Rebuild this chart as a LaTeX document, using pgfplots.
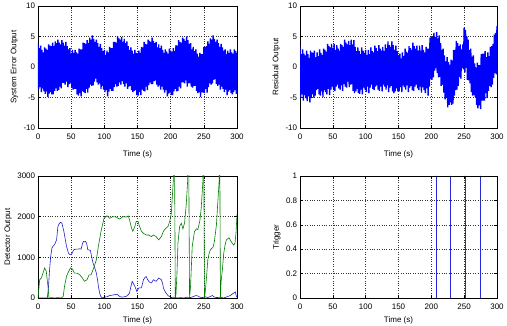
\documentclass[border=0pt]{standalone}
\usepackage{pgfplots}
\pgfplotsset{compat=1.18}
\usepackage{fontspec}
\setmainfont{Liberation Sans}
\begin{document}
\fontsize{8}{9.6}\selectfont
\begin{tikzpicture}
\pgfplotsset{
  mstyle/.style={
    scale only axis, width=199pt, height=122pt,
    xmin=0, xmax=300, xtick={0,50,...,300},
    tick align=inside, major tick length=3pt,
    grid=major, grid style={black!80, line width=0.4pt, dash pattern=on 0.6pt off 1.8pt},
    axis line style={black, line width=0.5pt},
    tick style={black, line width=0.5pt},
    xlabel={Time (s)},
    tick label style={font=\fontsize{8}{9.6}\selectfont},
    xticklabel style={yshift=-3pt},
    label style={font=\fontsize{8}{9.6}\selectfont},
    /pgf/number format/assume math mode=true,
    /pgf/number format/set thousands separator={},
    scaled ticks=false,
  },
  band/.style={color={rgb,255:red,0;green,0;blue,255}, line width=1.4pt, line join=bevel},
}
\path[use as bounding box] (0,0) rectangle (507pt,326pt);
% ---------------- top left
\begin{axis}[mstyle, at={(38pt,198pt)}, anchor=south west, xlabel style={yshift=-6pt},
  ymin=-10, ymax=10, ytick={-10,-5,0,5,10}, ylabel={System Error Output}]
\addplot[band] table[row sep=\\] {
x y\\
0 3.9\\ 1 -3.6\\ 2 3.1\\ 3 -3.3\\ 4 3.5\\ 5 -4.1\\ 6 2.8\\ 7 -3.5\\ 8 2.4\\ 9 -4.0\\
10 3.2\\ 11 -4.4\\ 12 3.0\\ 13 -4.0\\ 14 2.8\\ 15 -4.9\\ 16 3.7\\ 17 -4.35\\ 18 3.5\\ 19 -4.1\\
20 3.4\\ 21 -4.5\\ 22 4.0\\ 23 -4.5\\ 24 3.4\\ 25 -3.9\\ 26 4.2\\ 27 -3.5\\ 28 3.9\\ 29 -3.9\\
30 4.5\\ 31 -3.8\\ 32 4.0\\ 33 -3.2\\ 34 3.7\\ 35 -3.5\\ 36 4.4\\ 37 -2.6\\ 38 4.0\\ 39 -2.6\\
40 3.5\\ 41 -2.9\\ 42 4.1\\ 43 -2.4\\ 44 3.4\\ 45 -3.3\\ 46 2.9\\ 47 -2.8\\ 48 3.1\\ 49 -2.7\\
50 2.2\\ 51 -3.4\\ 52 2.8\\ 53 -3.7\\ 54 2.3\\ 55 -3.6\\ 56 2.8\\ 57 -3.6\\ 58 2.4\\ 59 -4.5\\
60 2.2\\ 61 -4.7\\ 62 3.0\\ 63 -4.3\\ 64 2.9\\ 65 -4.8\\ 66 2.9\\ 67 -4.0\\ 68 4.0\\ 69 -4.1\\
70 3.9\\ 71 -4.3\\ 72 3.8\\ 73 -3.6\\ 74 4.4\\ 75 -4.2\\ 76 3.9\\ 77 -3.4\\ 78 4.8\\ 79 -2.9\\
80 4.5\\ 81 -3.1\\ 82 5.2\\ 83 -3.0\\ 84 4.6\\ 85 -2.4\\ 86 4.1\\ 87 -1.9\\ 88 4.5\\ 89 -2.5\\
90 3.9\\ 91 -2.9\\ 92 3.3\\ 93 -2.7\\ 94 3.8\\ 95 -3.6\\ 96 3.1\\ 97 -3.1\\ 98 2.6\\ 99 -3.7\\
100 2.8\\ 101 -4.1\\ 102 2.0\\ 103 -3.8\\ 104 2.7\\ 105 -4.8\\ 106 2.4\\ 107 -4.05\\ 108 3.3\\ 109 -3.6\\
110 3.1\\ 111 -3.9\\ 112 3.1\\ 113 -3.9\\ 114 4.1\\ 115 -3.3\\ 116 4.1\\ 117 -2.8\\ 118 4.0\\ 119 -3.2\\
120 5.0\\ 121 -3.1\\ 122 4.7\\ 123 -2.5\\ 124 4.5\\ 125 -2.9\\ 126 4.9\\ 127 -2.3\\ 128 4.1\\ 129 -2.8\\
130 4.6\\ 131 -3.2\\ 132 3.9\\ 133 -2.7\\ 134 4.2\\ 135 -3.6\\ 136 3.4\\ 137 -3.2\\ 138 2.8\\ 139 -3.1\\
140 3.2\\ 141 -3.8\\ 142 2.7\\ 143 -4.1\\ 144 2.2\\ 145 -3.9\\ 146 2.8\\ 147 -3.8\\ 148 2.3\\ 149 -4.6\\
150 2.1\\ 151 -4.7\\ 152 2.7\\ 153 -4.1\\ 154 2.3\\ 155 -4.6\\ 156 3.3\\ 157 -3.7\\ 158 3.2\\ 159 -3.9\\
160 4.1\\ 161 -4.0\\ 162 3.8\\ 163 -3.2\\ 164 3.7\\ 165 -3.8\\ 166 4.5\\ 167 -2.95\\ 168 4.3\\ 169 -2.5\\
170 4.1\\ 171 -2.8\\ 172 4.8\\ 173 -2.8\\ 174 4.3\\ 175 -2.3\\ 176 3.9\\ 177 -2.2\\ 178 4.1\\ 179 -2.9\\
180 3.2\\ 181 -3.2\\ 182 3.7\\ 183 -3.0\\ 184 3.1\\ 185 -3.7\\ 186 3.5\\ 187 -3.2\\ 188 2.8\\ 189 -3.7\\
190 2.3\\ 191 -4.2\\ 192 2.9\\ 193 -3.8\\ 194 2.5\\ 195 -4.8\\ 196 2.2\\ 197 -4.35\\ 198 3.0\\ 199 -4.2\\
200 2.7\\ 201 -4.6\\ 202 2.5\\ 203 -4.6\\ 204 3.1\\ 205 -4.0\\ 206 2.6\\ 207 -3.6\\ 208 3.6\\ 209 -4.0\\
210 3.5\\ 211 -3.9\\ 212 4.4\\ 213 -3.2\\ 214 4.1\\ 215 -3.5\\ 216 4.0\\ 217 -2.5\\ 218 4.8\\ 219 -2.5\\
220 4.6\\ 221 -2.7\\ 222 4.3\\ 223 -2.2\\ 224 5.0\\ 225 -3.2\\ 226 4.4\\ 227 -2.7\\ 228 3.8\\ 229 -2.6\\
230 3.9\\ 231 -3.2\\ 232 2.9\\ 233 -3.4\\ 234 3.3\\ 235 -3.1\\ 236 2.6\\ 237 -3.1\\ 238 2.9\\ 239 -3.9\\
240 2.2\\ 241 -4.3\\ 242 1.7\\ 243 -4.1\\ 244 2.3\\ 245 -4.9\\ 246 2.1\\ 247 -4.1\\ 248 2.1\\ 249 -4.2\\
250 3.3\\ 251 -4.3\\ 252 3.3\\ 253 -3.6\\ 254 3.4\\ 255 -4.2\\ 256 4.2\\ 257 -3.3\\ 258 3.8\\ 259 -2.7\\
260 4.7\\ 261 -2.9\\ 262 4.5\\ 263 -2.7\\ 264 5.2\\ 265 -2.1\\ 266 4.6\\ 267 -2.0\\ 268 4.1\\ 269 -2.8\\
270 4.5\\ 271 -3.1\\ 272 3.9\\ 273 -2.9\\ 274 3.3\\ 275 -3.7\\ 276 3.8\\ 277 -3.2\\ 278 3.2\\ 279 -3.6\\
280 2.7\\ 281 -4.1\\ 282 2.9\\ 283 -3.7\\ 284 2.1\\ 285 -4.6\\ 286 2.7\\ 287 -4.05\\ 288 2.3\\ 289 -3.8\\
290 2.9\\ 291 -4.3\\ 292 2.4\\ 293 -4.5\\ 294 2.2\\ 295 -4.1\\ 296 2.9\\ 297 -3.8\\ 298 2.6\\ 299 -4.4\\
300 2.3\\
};
\end{axis}
% ---------------- top right
\begin{axis}[mstyle, width=197pt, at={(300pt,198pt)}, anchor=south west, xlabel style={yshift=-6pt},
  ymin=-10, ymax=10, ytick={-10,-5,0,5,10}, ylabel={Residual Output}]
\addplot[band] table[row sep=\\] {
x y\\
0 3.4\\ 1 -5.0\\ 2 2.1\\ 3 -4.5\\ 4 2.9\\ 5 -5.5\\ 6 2.2\\ 7 -4.6\\ 8 1.9\\ 9 -5.1\\
10 2.7\\ 11 -5.6\\ 12 2.1\\ 13 -4.8\\ 14 1.5\\ 15 -5.8\\ 16 2.7\\ 17 -5.1\\ 18 2.4\\ 19 -4.5\\
20 2.3\\ 21 -5.0\\ 22 2.7\\ 23 -4.7\\ 24 1.6\\ 25 -3.8\\ 26 2.4\\ 27 -3.6\\ 28 1.8\\ 29 -4.5\\
30 2.9\\ 31 -4.7\\ 32 2.3\\ 33 -4.0\\ 34 2.0\\ 35 -4.9\\ 36 3.0\\ 37 -3.8\\ 38 2.8\\ 39 -4.1\\
40 2.5\\ 41 -4.5\\ 42 3.8\\ 43 -3.6\\ 44 3.4\\ 45 -4.6\\ 46 3.2\\ 47 -3.7\\ 48 3.8\\ 49 -3.2\\
50 3.1\\ 51 -3.8\\ 52 3.8\\ 53 -3.9\\ 54 2.8\\ 55 -3.2\\ 56 3.6\\ 57 -2.9\\ 58 3.0\\ 59 -3.5\\
60 2.7\\ 61 -3.7\\ 62 3.8\\ 63 -3.0\\ 64 3.6\\ 65 -3.9\\ 66 3.3\\ 67 -2.8\\ 68 4.5\\ 69 -3.2\\
70 4.0\\ 71 -3.4\\ 72 3.7\\ 73 -2.4\\ 74 4.3\\ 75 -3.3\\ 76 3.6\\ 77 -2.9\\ 78 4.5\\ 79 -2.8\\
80 3.7\\ 81 -3.9\\ 82 4.4\\ 83 -4.3\\ 84 3.3\\ 85 -4.0\\ 86 2.6\\ 87 -3.6\\ 88 3.2\\ 89 -4.3\\
90 2.6\\ 91 -4.4\\ 92 2.1\\ 93 -3.7\\ 94 3.2\\ 95 -4.5\\ 96 2.7\\ 97 -3.4\\ 98 2.3\\ 99 -3.7\\
100 2.8\\ 101 -4.1\\ 102 2.0\\ 103 -3.2\\ 104 2.8\\ 105 -4.3\\ 106 2.1\\ 107 -3.4\\ 108 3.2\\ 109 -2.9\\
110 2.6\\ 111 -3.6\\ 112 2.4\\ 113 -3.8\\ 114 3.5\\ 115 -3.2\\ 116 3.1\\ 117 -3.0\\ 118 2.6\\ 119 -3.7\\
120 3.6\\ 121 -3.9\\ 122 3.0\\ 123 -3.2\\ 124 2.7\\ 125 -4.0\\ 126 3.3\\ 127 -2.9\\ 128 2.6\\ 129 -3.2\\
130 3.7\\ 131 -3.7\\ 132 3.1\\ 133 -3.0\\ 134 4.2\\ 135 -4.1\\ 136 3.6\\ 137 -3.4\\ 138 3.3\\ 139 -3.1\\
140 4.2\\ 141 -4.0\\ 142 3.6\\ 143 -4.3\\ 144 2.8\\ 145 -4.0\\ 146 3.5\\ 147 -3.5\\ 148 2.6\\ 149 -4.0\\
150 1.9\\ 151 -4.0\\ 152 2.2\\ 153 -3.3\\ 154 1.4\\ 155 -4.1\\ 156 2.4\\ 157 -3.0\\ 158 1.8\\ 159 -3.3\\
160 3.0\\ 161 -3.7\\ 162 2.5\\ 163 -3.0\\ 164 2.3\\ 165 -4.1\\ 166 3.4\\ 167 -3.4\\ 168 3.1\\ 169 -3.1\\
170 2.8\\ 171 -3.8\\ 172 4.0\\ 173 -3.9\\ 174 3.4\\ 175 -3.2\\ 176 3.0\\ 177 -2.9\\ 178 3.5\\ 179 -3.5\\
180 2.7\\ 181 -3.8\\ 182 3.5\\ 183 -3.2\\ 184 2.7\\ 185 -4.2\\ 186 3.6\\ 187 -3.3\\ 188 2.8\\ 189 -3.8\\
190 2.4\\ 191 -4.3\\ 192 3.3\\ 193 -3.5\\ 194 3.0\\ 195 -4.7\\ 196 3.0\\ 197 -3.2\\ 198 4.8\\ 199 -2.0\\
200 4.9\\ 201 -2.1\\ 202 4.9\\ 203 -1.7\\ 204 5.6\\ 205 -0.6\\ 206 4.9\\ 207 -0.2\\ 208 5.7\\ 209 -1.0\\
210 4.7\\ 211 -1.7\\ 212 5.2\\ 213 -1.6\\ 214 3.9\\ 215 -3.1\\ 216 2.8\\ 217 -2.9\\ 218 3.0\\ 219 -4.2\\
220 1.9\\ 221 -5.3\\ 222 0.9\\ 223 -5.0\\ 224 1.6\\ 225 -6.6\\ 226 0.8\\ 227 -6.2\\ 228 0.4\\ 229 -5.8\\
230 1.2\\ 231 -6.2\\ 232 1.1\\ 233 -6.0\\ 234 2.8\\ 235 -4.7\\ 236 2.8\\ 237 -3.8\\ 238 4.3\\ 239 -3.7\\
240 3.9\\ 241 -3.1\\ 242 3.4\\ 243 -1.6\\ 244 3.7\\ 245 -1.9\\ 246 2.9\\ 247 -0.2\\ 248 3.7\\ 249 -0.4\\
250 6.4\\ 251 -0.9\\ 252 6.1\\ 253 -0.1\\ 254 5.0\\ 255 -2.1\\ 256 4.5\\ 257 -2.2\\ 258 2.8\\ 259 -2.7\\
260 3.0\\ 261 -4.1\\ 262 1.7\\ 263 -4.7\\ 264 1.9\\ 265 -4.6\\ 266 0.6\\ 267 -4.9\\ 268 -0.1\\ 269 -6.2\\
270 0.7\\ 271 -6.8\\ 272 0.3\\ 273 -6.3\\ 274 0.3\\ 275 -6.9\\ 276 2.1\\ 277 -5.5\\ 278 2.2\\ 279 -5.5\\
280 2.2\\ 281 -5.5\\ 282 2.6\\ 283 -4.3\\ 284 1.6\\ 285 -5.1\\ 286 2.4\\ 287 -3.9\\ 288 1.8\\ 289 -3.1\\
290 3.3\\ 291 -3.3\\ 292 3.4\\ 293 -2.9\\ 294 3.8\\ 295 -1.8\\ 296 5.3\\ 297 -1.0\\ 298 5.6\\ 299 -1.2\\
300 6.7\\
};
\end{axis}
% ---------------- bottom left
\begin{axis}[mstyle, at={(38pt,28pt)}, anchor=south west, xlabel style={yshift=-2pt},
  ymin=0, ymax=3000, ytick={0,1000,2000,3000}, ylabel={Detector Output}]
\addplot[color={rgb,255:red,30;green,30;blue,200}, line width=0.6pt] coordinates {
(0,0) (14,0) (15.5,200) (17.5,700) (19,1000) (21,1230) (23,1280) (25,1310) (28,1430) (30,1760)
(32,1830) (34,1860) (36,1840) (39,1640) (41,1450) (43,1270) (46,1100) (48,1070) (50,1060) (52,1120)
(54,1190) (57,1200) (60,1200) (63,1210) (65,1200) (67,1330) (68.5,1390) (70,1380) (72,1390) (73.5,1330)
(75,1190) (79,1170) (81,1000) (83,860) (86,720) (88,610) (90,420) (91,290) (93,120) (94.5,40)
(97,0) (100,20) (104,30) (108,60) (112,70) (115,80) (118,90) (120,80) (123,40) (126,20)
(130,30) (133,40) (136,80) (138,120) (140,280) (142,410) (144,350) (146,290) (149,160) (152,250)
(156,250) (159,450) (161,500) (163,530) (165,460) (167,410) (169,380) (171,370) (174,450) (176,430)
(178,410) (180,450) (182,490) (184,470) (186,450) (188,350) (189,250) (191,180) (193,120) (196,60)
(198,40) (200,10) (205,20) (210,0) (215,10) (220,0) (225,20) (230,10) (235,40) (238,60)
(241,50) (244,20) (248,10) (252,30) (256,10) (260,40) (263,60) (266,20) (270,10) (275,20)
(280,0) (285,30) (290,60) (293,100) (296,130) (297.5,150) (299,40) (300,20)
};
\addplot[color={rgb,255:red,0;green,128;blue,0}, line width=0.6pt] coordinates {
(0,0) (2.5,450) (5,490) (7.5,610) (10,740) (12.5,650) (15,290) (16.5,0) (20,10) (25,0)
(30,10) (35,0) (38,40) (40,290) (43,530) (45,610) (49,740) (52,710) (55,610) (59,610)
(63,570) (67,490) (70,410) (74,450) (77,570) (80,570) (84,740) (88,940) (91,1270) (95.5,1680)
(99.5,1960) (104,2020) (108,1960) (113,2000) (118,1990) (123,1940) (128,2000) (133,1990) (136,2020) (138,1920)
(141,1720) (143,1640) (146,1760) (148,1880) (151,1880) (153,1760) (156,1640) (159,1590) (163,1550) (167,1550)
(171,1510) (174,1550) (178,1510) (182,1430) (186,1510) (189,1640) (193,1720) (196,1760) (198.5,1880) (201,2080)
(204,2900) (205.5,4500) (207,0)
(208,100) (209.5,600) (211,1350) (213.5,1760) (216,1840) (218.5,1700) (221,1850) (223.5,2300) (225.5,2850) (226.8,4500) (228.5,0)
(230,300) (232.5,1270) (236,1640) (239,1700) (241,1680) (244,1900) (246,2200) (248.5,2850) (249.6,4500) (251,0)
(252,120) (254,500) (256,940) (258,1100) (260,1190) (264,1250) (266,1400) (269,1800) (271,2330) (273,2850) (273.8,4500) (275,0)
(276,400) (278,700) (280,1100) (282,1300) (284,1430) (288,1480) (291,1390) (295,1300) (297,1350) (298.5,1600) (300,2050)
};
\end{axis}
% ---------------- bottom right
\begin{axis}[mstyle, width=197pt, at={(300pt,28pt)}, anchor=south west, xlabel style={yshift=-2pt},
  ymin=0, ymax=1, ytick={0,0.2,0.4,0.6,0.8,1}, ylabel={Trigger}, axis on top]
\addplot[color={rgb,255:red,40;green,40;blue,220}, line width=0.6pt] coordinates {
(0,0) (207,0) (207,1) (207,0) (229,0) (229,1) (229,0) (251.5,0) (251.5,1) (251.5,0)
(275,0) (275,1) (275,0) (300,0)
};
\end{axis}
\end{tikzpicture}
\end{document}
